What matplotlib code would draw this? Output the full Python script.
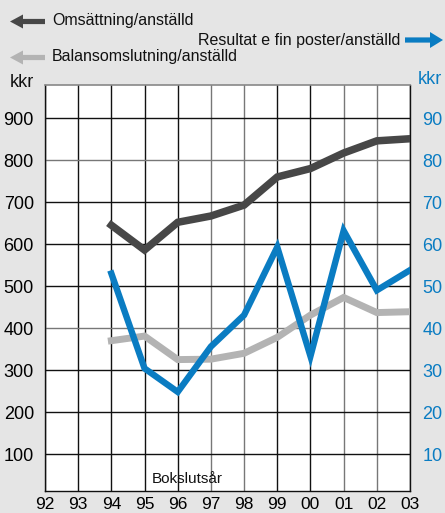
import matplotlib
matplotlib.use("Agg")
import matplotlib.pyplot as plt
from matplotlib.patches import Polygon
from matplotlib.transforms import IdentityTransform

plt.rcParams['font.family'] = ['Liberation Sans', 'DejaVu Sans']

years = ['92', '93', '94', '95', '96', '97', '98', '99', '00', '01', '02', '03']
data_years = ['94', '95', '96', '97', '98', '99', '00', '01', '02', '03']
omsattning = [645, 586, 652, 667, 693, 760, 780, 817, 846, 851]
balans = [370, 381, 325, 326, 340, 378, 431, 473, 437, 439]
resultat = [53.0, 30.4, 24.8, 35.6, 43.1, 59.3, 33.3, 63.2, 49.0, 53.8]
left_ticks = [100, 200, 300, 400, 500, 600, 700, 800, 900]
right_ticks = [10, 20, 30, 40, 50, 60, 70, 80, 90]

W, H = 445, 513
fig = plt.figure(figsize=(W / 100, H / 100), dpi=100)
fig.patch.set_facecolor('#e5e5e5')
L, R, T, B = 45, 410, 85, 491
ax = fig.add_axes([L / W, 1 - B / H, (R - L) / W, (B - T) / H])
ax.set_facecolor('white')

xpos = {y: i for i, y in enumerate(years)}
xd = [xpos[y] for y in data_years]

ax.set_xlim(0, len(years) - 1)
ax.set_ylim(12, 979)
ax.set_xticks(range(len(years)))
ax.set_xticklabels(years, fontsize=12.5)
ax.set_yticks(left_ticks)
ax.set_yticklabels([str(v) for v in left_ticks], fontsize=13)
ax.tick_params(axis='both', length=0)
ax.tick_params(axis='y', pad=8)
ax.tick_params(axis='x', pad=4)
ax.grid(True, color='#111111', linewidth=1.0)
ax.set_axisbelow(True)
vgrey = {'97', '98', '01', '02'}
for gl, y in zip(ax.xaxis.get_gridlines(), years):
    gl.set_color('#777777' if y in vgrey else '#111111')
hgrey = {800, 400}
for gl, v in zip(ax.yaxis.get_gridlines(), left_ticks):
    gl.set_color('#777777' if v in hgrey else '#111111')

for side in ['left', 'right', 'bottom']:
    ax.spines[side].set_color('#111111')
    ax.spines[side].set_linewidth(1.0)
ax.spines['top'].set_color('#888888')
ax.spines['top'].set_linewidth(1.2)

ax.plot(xd, balans, color='#b3b3b3', linewidth=5.0, solid_joinstyle='miter', zorder=3)
ax.plot(xd, omsattning, color='#474747', linewidth=5.4, solid_joinstyle='miter', zorder=4)

ax2 = ax.twinx()
ax2.set_ylim(1.2, 97.9)
ax2.set_yticks(right_ticks)
ax2.set_yticklabels([str(v) for v in right_ticks], fontsize=13, color='#0a7cc2')
ax2.tick_params(axis='y', length=0, pad=9)
for s in ax2.spines.values():
    s.set_visible(False)
ax2.plot(xd, resultat, color='#0a7cc2', linewidth=4.6, solid_joinstyle='miter', zorder=5)

ax.text(4.3, 40, 'Bokslutsår', fontsize=11, ha='center', va='center', color='#111111', zorder=6)

def fig_text(x, y, s, **kw):
    fig.text(x / W, 1 - y / H, s, **kw)

fig_text(10, 83, 'kkr', fontsize=13, ha='left', va='center', color='#111111')
fig_text(418, 80, 'kkr', fontsize=13, ha='left', va='center', color='#0a7cc2')
fig_text(52, 20, 'Omsättning/anställd', fontsize=11.5, ha='left', va='center', color='#111111')
fig_text(52, 57, 'Balansomslutning/anställd', fontsize=11.5, ha='left', va='center', color='#111111')
fig_text(400, 40, 'Resultat e fin poster/anställd', fontsize=11.5, ha='right', va='center', color='#111111')

def arrow(x_tail, x_head, y, color, hw=7, sw=2.6, hl=13):
    d = 1 if x_head > x_tail else -1
    yb = H - y
    base = x_head - d * hl
    pts = [(x_tail, yb - sw), (base, yb - sw), (base, yb - hw), (x_head, yb),
           (base, yb + hw), (base, yb + sw), (x_tail, yb + sw)]
    fig.patches.append(Polygon(pts, closed=True, facecolor=color, edgecolor='none',
                               transform=IdentityTransform(), figure=fig))

arrow(45, 10, 21.5, '#474747')
arrow(45, 10, 57.5, '#b3b3b3')
arrow(405, 443, 40, '#0a7cc2', hw=8)

fig.savefig('out.png', dpi=100, facecolor=fig.get_facecolor())
